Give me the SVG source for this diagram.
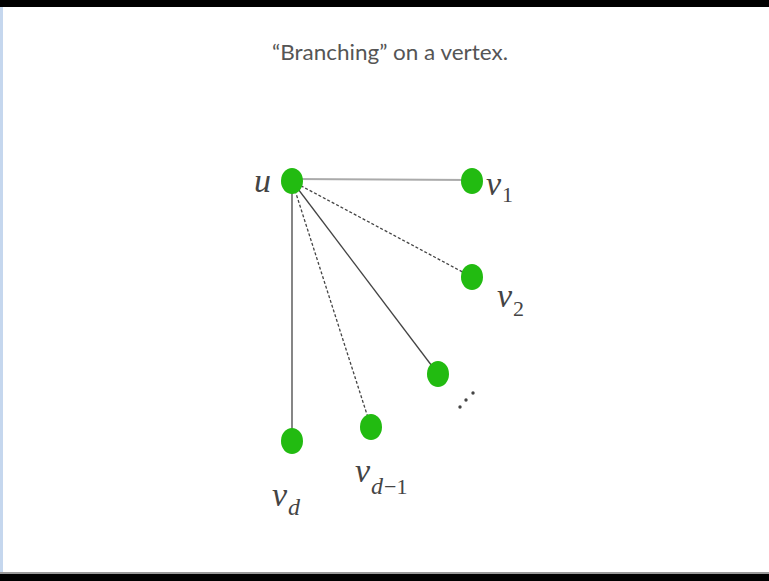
<svg xmlns="http://www.w3.org/2000/svg" width="769" height="581" viewBox="0 0 769 581">
<style>
.node{fill:#22bb11}
.lbl{font-family:"Liberation Serif",serif;font-style:italic;font-size:34px;fill:#444}
.sub{font-style:normal;font-size:22px}
.subi{font-style:italic;font-size:24px}
.e{stroke:#444;stroke-width:1.3;fill:none}
.dash{stroke-dasharray:3 2}
</style>
<rect x="0" y="0" width="769" height="581" fill="#ffffff"/>
<rect x="0" y="0" width="3" height="581" fill="#c5d7ee"/>
<rect x="0" y="0" width="769" height="7" fill="#000"/>
<rect x="0" y="572" width="769" height="2" fill="#999"/>
<rect x="0" y="574" width="769" height="7" fill="#000"/>
<text x="390" y="60" text-anchor="middle" font-family="Lato, sans-serif" font-size="22" fill="#555" textLength="236" lengthAdjust="spacingAndGlyphs">“Branching” on a vertex.</text>
<g id="edges">
<line x1="292" y1="179" x2="472" y2="180" style="stroke:#aaa;stroke-width:2"/>
<line class="e dash" x1="292" y1="181" x2="472" y2="277"/>
<line class="e" x1="292" y1="181" x2="438" y2="374"/>
<line class="e dash" x1="292" y1="181" x2="371" y2="427"/>
<line class="e" x1="292" y1="181" x2="292" y2="441"/>
</g>
<g id="u"><ellipse class="node" cx="292" cy="181" rx="11" ry="13"/><text class="lbl" x="254" y="192">u</text></g>
<g id="v1"><ellipse class="node" cx="472" cy="181" rx="11" ry="13"/><text class="lbl" x="486" y="195">v<tspan class="sub" dx="1" dy="7">1</tspan></text></g>
<g id="v2"><ellipse class="node" cx="472" cy="277" rx="11" ry="13"/><text class="lbl" x="497" y="307">v<tspan class="sub" dx="1" dy="9">2</tspan></text></g>
<g id="v3"><ellipse class="node" cx="438" cy="374" rx="11" ry="13"/>
<circle cx="460" cy="407" r="1.7" fill="#444"/><circle cx="466" cy="400" r="1.7" fill="#444"/><circle cx="473" cy="393" r="1.7" fill="#444"/></g>
<g id="vd1"><ellipse class="node" cx="371" cy="427" rx="11" ry="13"/><text class="lbl" x="355" y="482">v<tspan class="subi" dx="1" dy="12">d</tspan><tspan class="sub" dx="1">−1</tspan></text></g>
<g id="vd"><ellipse class="node" cx="292" cy="441" rx="11" ry="13"/><text class="lbl" x="272" y="506">v<tspan class="subi" dx="1" dy="9">d</tspan></text></g>
</svg>
